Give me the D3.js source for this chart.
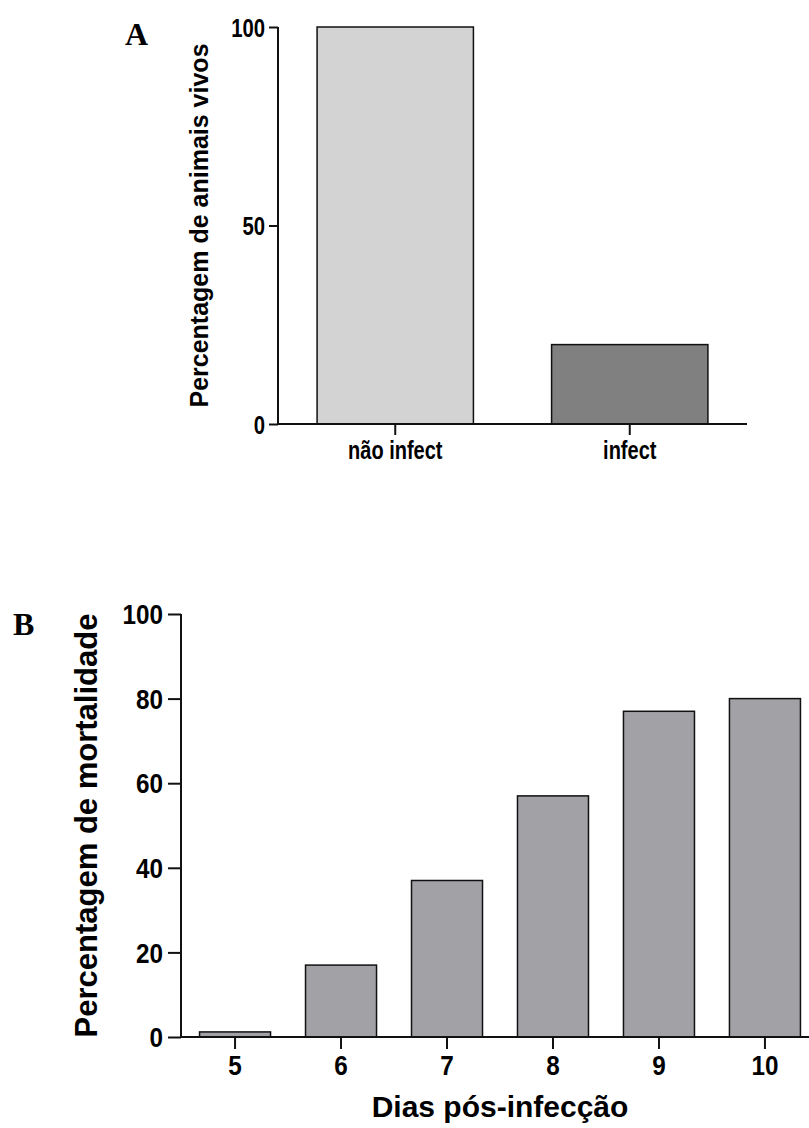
<!DOCTYPE html>
<html>
<head>
<meta charset="utf-8">
<script src="https://cdn.jsdelivr.net/npm/d3@7"></script>
<style>
    body { margin: 0; background: #fff; }
    svg { display: block; }
    .sans { font-family: "Liberation Sans", Arial, sans-serif; font-weight: bold; }
    .panel { font-family: "Liberation Serif", "Times New Roman", serif; font-weight: bold; }
</style>
</head>
<body>
<svg id="fig" width="809" height="1128"></svg>
<script>
// panel A data
let groupsA = ["não infect", "infect"]
let aliveA = [100, 20]
let colorsA = ["#d3d3d3", "#808080"]
let ticksA = [0, 50, 100]

// panel B data
let daysB = ["5", "6", "7", "8", "9", "10"]
let mortB = [1.2, 17, 37, 57, 77, 80]
let ticksB = [0, 20, 40, 60, 80, 100]

let svg = d3.select("#fig")

// squeeze tick text horizontally (the original uses a condensed face)
function squeeze(sel, k, size) {
    sel.attr("class", "sans")
        .style("font-size", size + "px")
        .attr("x", function () { return +d3.select(this).attr("x") / k })
        .attr("transform", "scale(" + k + ",1)")
}

// ---------- A ----------
let xA = d3.scaleBand()
    .domain(groupsA)
    .range([278, 747])
    .paddingInner(1 / 3)
    .paddingOuter(1 / 6)

let yA = d3.scaleLinear()
    .domain([0, 100])
    .range([424, 27])

let gA = svg.append("g")

gA.selectAll(".barA")
    .data(groupsA)
    .join("rect")
    .attr("class", "barA")
    .attr("x", d => xA(d))
    .attr("width", xA.bandwidth())
    .attr("y", (d, i) => yA(aliveA[i]))
    .attr("height", (d, i) => yA(0) - yA(aliveA[i]))
    .style("fill", (d, i) => colorsA[i])
    .style("stroke", "#111")
    .style("stroke-width", 1.5)

let axisYA = gA.append("g")
    .attr("transform", "translate(278,0)")
    .call(d3.axisLeft(yA).tickValues(ticksA).tickSize(9).tickPadding(4).tickSizeOuter(0))
axisYA.select(".domain").attr("d", "M0," + yA(100) + "V" + yA(0))

let axisXA = gA.append("g")
    .attr("transform", "translate(0,424)")
    .call(d3.axisBottom(xA).tickSize(11).tickPadding(6).tickSizeOuter(0))
axisXA.select(".domain").attr("d", "M278,0H747")

axisYA.selectAll("text").call(squeeze, 0.78, 26).attr("dy", "0.36em")
axisXA.selectAll("text").call(squeeze, 0.8, 25)

gA.append("text")
    .attr("class", "sans")
    .attr("transform", "translate(208," + ((yA(0) + yA(100)) / 2) + ") rotate(-90)")
    .attr("text-anchor", "middle")
    .style("font-size", "25px")
    .text("Percentagem de animais vivos")

svg.append("text")
    .attr("class", "panel")
    .attr("x", 125).attr("y", 45)
    .style("font-size", "32px")
    .text("A")

// ---------- B ----------
let xB = d3.scaleBand()
    .domain(daysB)
    .range([181, 819])
    .paddingInner(0.33)
    .paddingOuter(0.175)

let yB = d3.scaleLinear()
    .domain([0, 100])
    .range([1037, 614])

let gB = svg.append("g")

gB.selectAll(".barB")
    .data(daysB)
    .join("rect")
    .attr("class", "barB")
    .attr("x", d => xB(d))
    .attr("width", xB.bandwidth())
    .attr("y", (d, i) => yB(mortB[i]))
    .attr("height", (d, i) => yB(0) - yB(mortB[i]))
    .style("fill", "#a2a1a6")
    .style("stroke", "#111")
    .style("stroke-width", 1.5)

let axisYB = gB.append("g")
    .attr("transform", "translate(181,0)")
    .call(d3.axisLeft(yB).tickValues(ticksB).tickSize(13).tickPadding(5).tickSizeOuter(0))
axisYB.select(".domain").attr("d", "M0," + yB(100) + "V" + yB(0))

let axisXB = gB.append("g")
    .attr("transform", "translate(0,1037)")
    .call(d3.axisBottom(xB).tickSize(12).tickPadding(7).tickSizeOuter(0))
axisXB.select(".domain").attr("d", "M181,0H819")

axisYB.selectAll("text").call(squeeze, 0.9, 27).attr("dy", "0.36em")
axisXB.selectAll("text").call(squeeze, 0.9, 27)

gB.append("text")
    .attr("class", "sans")
    .attr("transform", "translate(97," + ((yB(0) + yB(100)) / 2) + ") rotate(-90)")
    .attr("text-anchor", "middle")
    .style("font-size", "31px")
    .text("Percentagem de mortalidade")

gB.append("text")
    .attr("class", "sans")
    .attr("x", (181 + 819) / 2)
    .attr("y", 1117)
    .attr("text-anchor", "middle")
    .style("font-size", "30px")
    .text("Dias pós-infecção")

svg.append("text")
    .attr("class", "panel")
    .attr("x", 13).attr("y", 635)
    .style("font-size", "32px")
    .text("B")

// axis strokes
svg.selectAll(".domain, .tick line")
    .style("stroke", "#111")
    .style("stroke-width", 2)
svg.selectAll(".tick text").style("fill", "#000")
</script>
</body>
</html>
